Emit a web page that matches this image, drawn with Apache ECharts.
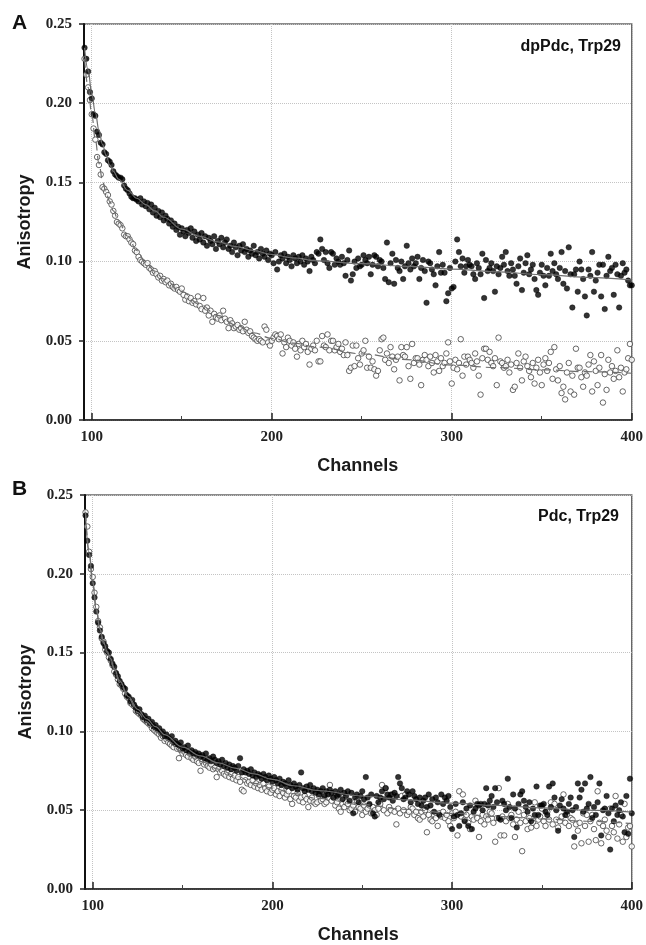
<!DOCTYPE html>
<html><head><meta charset="utf-8">
<script src="https://cdn.jsdelivr.net/npm/echarts@6/dist/echarts.min.js"></script>
<style>html,body{margin:0;padding:0;background:#fff}#c{width:646px;height:945px}</style>
</head><body><div id="c"></div>
<script>
// Detector channels (x values)
const channels = [
96,97,98,99,100,101,102,103,104,105,
106,107,108,109,110,111,112,113,114,115,
116,117,118,119,120,121,122,123,124,125,
126,127,128,129,130,131,132,133,134,135,
136,137,138,139,140,141,142,143,144,145,
146,147,148,149,150,151,152,153,154,155,
156,157,158,159,160,161,162,163,164,165,
166,167,168,169,170,171,172,173,174,175,
176,177,178,179,180,181,182,183,184,185,
186,187,188,189,190,191,192,193,194,195,
196,197,198,199,200,201,202,203,204,205,
206,207,208,209,210,211,212,213,214,215,
216,217,218,219,220,221,222,223,224,225,
226,227,228,229,230,231,232,233,234,235,
236,237,238,239,240,241,242,243,244,245,
246,247,248,249,250,251,252,253,254,255,
256,257,258,259,260,261,262,263,264,265,
266,267,268,269,270,271,272,273,274,275,
276,277,278,279,280,281,282,283,284,285,
286,287,288,289,290,291,292,293,294,295,
296,297,298,299,300,301,302,303,304,305,
306,307,308,309,310,311,312,313,314,315,
316,317,318,319,320,321,322,323,324,325,
326,327,328,329,330,331,332,333,334,335,
336,337,338,339,340,341,342,343,344,345,
346,347,348,349,350,351,352,353,354,355,
356,357,358,359,360,361,362,363,364,365,
366,367,368,369,370,371,372,373,374,375,
376,377,378,379,380,381,382,383,384,385,
386,387,388,389,390,391,392,393,394,395,
396,397,398,399,400];

const xTickLabels = [100, 200, 300, 400];
const xMinorTicks = [150, 250, 350];

// Panel A: dpPdc, Trp29 — filled symbols
const aFilled = [
.235,.228,.220,.207,.203,.193,.192,.182,.180,.175,
.174,.169,.168,.164,.163,.161,.157,.155,.154,.153,
.153,.152,.148,.146,.145,.143,.141,.140,.140,.139,
.138,.140,.136,.138,.135,.137,.133,.136,.131,.134,
.129,.132,.128,.131,.126,.129,.127,.124,.126,.122,
.124,.120,.122,.117,.121,.119,.116,.120,.118,.121,
.115,.119,.113,.117,.114,.118,.112,.116,.110,.115,
.113,.111,.116,.108,.113,.111,.115,.109,.112,.114,
.108,.110,.106,.112,.109,.104,.110,.107,.111,.106,
.108,.103,.107,.105,.110,.104,.106,.102,.108,.105,
.103,.107,.101,.105,.104,.099,.106,.095,.100,.104,
.102,.105,.099,.103,.101,.097,.104,.102,.099,.103,
.100,.104,.098,.102,.100,.094,.103,.101,.099,.106,
.105,.114,.108,.101,.106,.099,.096,.106,.105,.098,
.102,.100,.098,.103,.099,.091,.101,.107,.088,.092,
.100,.096,.102,.097,.098,.104,.101,.099,.103,.092,
.098,.104,.103,.097,.101,.100,.096,.089,.112,.087,
.099,.105,.086,.101,.096,.094,.100,.089,.097,.110,
.099,.095,.102,.097,.099,.103,.089,.096,.101,.094,
.074,.100,.099,.095,.092,.085,.097,.106,.093,.098,
.093,.075,.080,.096,.083,.084,.100,.114,.106,.097,
.102,.093,.097,.101,.098,.097,.092,.089,.099,.096,
.092,.105,.077,.101,.094,.096,.099,.094,.081,.097,
.092,.096,.103,.098,.106,.094,.091,.099,.095,.091,
.086,.097,.102,.082,.093,.099,.104,.092,.095,.098,
.089,.082,.079,.093,.098,.091,.085,.096,.091,.105,
.094,.099,.092,.089,.096,.106,.086,.094,.083,.109,
.092,.071,.092,.095,.081,.100,.095,.089,.078,.066,
.095,.091,.106,.081,.088,.093,.098,.078,.098,.070,
.091,.103,.094,.096,.079,.098,.092,.071,.091,.099,
.093,.095,.088,.085,.085];

// Panel A: open symbols
const aOpen = [
.228,.218,.210,.202,.193,.184,.177,.166,.161,.155,
.147,.146,.144,.142,.138,.136,.132,.129,.125,.124,
.123,.121,.117,.116,.116,.114,.112,.111,.107,.106,
.103,.101,.100,.099,.098,.099,.096,.095,.093,.094,
.092,.090,.091,.088,.089,.087,.088,.085,.086,.084,
.083,.084,.082,.081,.083,.079,.076,.078,.075,.077,
.074,.075,.073,.078,.072,.070,.077,.069,.071,.066,
.069,.062,.067,.065,.064,.066,.063,.069,.064,.062,
.058,.063,.061,.058,.059,.060,.057,.058,.056,.062,
.057,.055,.056,.053,.052,.051,.050,.051,.050,.049,
.059,.057,.049,.047,.050,.052,.054,.053,.051,.054,
.042,.049,.046,.052,.050,.047,.049,.045,.040,.048,
.044,.050,.046,.048,.043,.035,.045,.047,.044,.050,
.037,.037,.053,.047,.046,.054,.044,.050,.050,.044,
.046,.048,.043,.045,.041,.049,.041,.031,.033,.047,
.034,.047,.039,.035,.042,.044,.050,.033,.040,.033,
.037,.032,.028,.031,.044,.051,.052,.038,.042,.036,
.046,.040,.032,.038,.040,.025,.046,.041,.040,.046,
.034,.026,.048,.036,.039,.039,.035,.022,.038,.041,
.038,.034,.040,.036,.030,.041,.037,.031,.039,.034,
.036,.042,.049,.037,.023,.033,.038,.032,.036,.051,
.028,.040,.035,.040,.038,.036,.033,.042,.037,.028,
.016,.039,.045,.045,.038,.043,.036,.034,.039,.022,
.052,.037,.036,.033,.034,.038,.030,.035,.019,.021,
.036,.042,.033,.025,.037,.040,.034,.031,.027,.036,
.023,.033,.038,.030,.022,.035,.039,.031,.036,.043,
.026,.046,.032,.025,.034,.017,.021,.013,.030,.036,
.018,.028,.016,.045,.033,.033,.027,.021,.030,.028,
.035,.041,.018,.037,.031,.022,.033,.041,.011,.029,
.019,.038,.030,.034,.026,.031,.044,.027,.033,.018,
.030,.032,.039,.048,.038];

// Panel B: Pdc, Trp29 — filled symbols
const bFilled = [
.237,.221,.212,.205,.194,.185,.176,.169,.164,.160,
.156,.154,.151,.150,.146,.143,.141,.137,.135,.132,
.130,.128,.127,.123,.122,.119,.120,.117,.115,.113,
.114,.111,.109,.110,.107,.108,.105,.106,.103,.104,
.101,.102,.099,.100,.097,.098,.096,.095,.097,.093,
.094,.092,.091,.093,.089,.090,.088,.091,.087,.088,
.086,.087,.085,.086,.084,.085,.083,.086,.082,.083,
.081,.084,.082,.080,.081,.079,.082,.078,.080,.077,
.079,.076,.078,.077,.075,.078,.083,.074,.076,.074,
.075,.073,.076,.072,.074,.071,.073,.072,.070,.073,
.071,.069,.072,.070,.068,.071,.069,.067,.070,.066,
.068,.067,.065,.069,.066,.064,.067,.065,.063,.066,
.074,.064,.062,.065,.063,.066,.062,.064,.061,.063,
.060,.062,.064,.059,.062,.060,.063,.061,.058,.062,
.059,.060,.063,.057,.061,.059,.062,.056,.061,.048,
.058,.060,.055,.059,.062,.057,.071,.058,.054,.060,
.048,.046,.059,.055,.058,.062,.057,.064,.060,.058,
.060,.056,.061,.059,.071,.067,.064,.057,.058,.062,
.060,.055,.062,.059,.057,.054,.058,.053,.056,.058,
.052,.060,.053,.057,.049,.058,.055,.047,.060,.054,
.058,.056,.059,.052,.038,.046,.054,.047,.040,.048,
.055,.043,.051,.040,.053,.038,.049,.051,.054,.053,
.054,.050,.054,.064,.053,.056,.059,.052,.064,.055,
.045,.044,.056,.054,.050,.070,.052,.045,.060,.051,
.039,.054,.060,.062,.056,.052,.049,.055,.043,.051,
.047,.065,.047,.053,.053,.054,.049,.047,.065,.052,
.067,.058,.050,.037,.053,.057,.051,.047,.049,.054,
.058,.050,.033,.052,.067,.058,.063,.049,.067,.051,
.054,.071,.045,.052,.047,.055,.067,.034,.050,.051,
.059,.048,.025,.051,.043,.053,.047,.050,.055,.046,
.036,.059,.035,.070,.048];

// Panel B: open symbols
const bOpen = [
.239,.230,.214,.203,.198,.188,.179,.170,.166,.159,
.157,.152,.150,.147,.145,.142,.138,.136,.133,.130,
.129,.127,.124,.122,.121,.118,.117,.116,.113,.112,
.111,.110,.108,.107,.106,.105,.104,.102,.101,.100,
.099,.098,.096,.097,.094,.095,.093,.092,.091,.090,
.092,.089,.083,.088,.086,.087,.085,.084,.086,.083,
.082,.084,.081,.080,.075,.081,.079,.080,.078,.077,
.079,.076,.077,.071,.076,.074,.075,.073,.072,.074,
.071,.073,.070,.072,.069,.071,.068,.063,.062,.069,
.067,.068,.066,.069,.065,.067,.064,.066,.063,.067,
.064,.062,.065,.061,.063,.064,.060,.062,.059,.063,
.061,.058,.060,.062,.057,.054,.059,.058,.061,.056,
.058,.055,.059,.057,.052,.056,.058,.055,.054,.055,
.059,.056,.057,.054,.055,.058,.066,.056,.058,.053,
.055,.051,.049,.054,.052,.055,.054,.050,.051,.053,
.049,.056,.052,.051,.047,.053,.049,.051,.053,.048,
.052,.050,.047,.051,.054,.066,.050,.064,.048,.052,
.050,.060,.049,.041,.051,.048,.059,.050,.060,.047,
.049,.052,.051,.047,.049,.045,.044,.049,.046,.050,
.036,.047,.044,.043,.047,.045,.040,.048,.046,.049,
.045,.047,.043,.040,.048,.045,.049,.034,.062,.046,
.060,.044,.047,.042,.038,.046,.044,.056,.045,.033,
.043,.047,.041,.046,.044,.049,.048,.042,.030,.045,
.064,.034,.046,.034,.043,.054,.045,.047,.041,.033,
.044,.049,.042,.024,.047,.043,.038,.045,.039,.042,
.055,.040,.044,.046,.051,.043,.040,.049,.044,.055,
.041,.054,.044,.039,.043,.046,.060,.042,.047,.040,
.045,.044,.027,.041,.037,.042,.029,.048,.040,.047,
.030,.043,.047,.038,.031,.062,.042,.029,.040,.044,
.037,.033,.051,.040,.036,.059,.032,.041,.047,.030,
.054,.033,.039,.040,.027];

// Fitted curves (at these channels)
const fitChannels = [96,98,100,102,104,106,108,110,112,115,120,125,130,135,140,150,160,170,180,190,200,212,225,250,275,300,325,350,375,400];
const aFitFilled = [.235,.221,.206,.194,.183,.174,.167,.161,.157,.152,.145,.140,.136,.132,.128,.1205,.116,.1125,.1095,.107,.1045,.1023,.1004,.0987,.097,.0953,.0935,.0918,.0901,.0884];
const aFitOpen = [.228,.210,.193,.177,.162,.151,.143,.138,.132,.125,.116,.107,.099,.094,.089,.081,.073,.066,.060,.055,.0515,.0485,.0461,.0418,.0381,.0347,.0331,.0317,.0305,.0295];
const bFitFilled = [.237,.213,.194,.177,.165,.157,.151,.146,.140,.132,.122,.114,.108,.103,.098,.090,.0845,.080,.0765,.073,.0695,.0655,.0625,.0590,.0565,.0545,.053,.0515,.050,.0488];
const bFitOpen = [.239,.214,.195,.178,.165,.156,.150,.145,.139,.131,.121,.112,.106,.100,.095,.087,.081,.076,.0715,.067,.064,.0605,.0575,.0535,.0505,.048,.046,.0445,.043,.0415];

const serif = "'Liberation Serif','Times New Roman',serif";
const sans = "'Liberation Sans',Arial,sans-serif";
const XMIN = 95.7, XMAX = 400;

function xAxesFor(gridIndex) {
  return [{
    type: 'value', gridIndex, min: XMIN, max: XMAX, position: 'bottom',
    name: 'Channels', nameLocation: 'middle', nameGap: 37,
    nameTextStyle: {fontFamily: sans, fontWeight: 'bold', fontSize: 18, color: '#1a1a1a'},
    axisLine: {show: true, onZero: false, lineStyle: {color: '#222', width: 1.5}},
    axisTick: {show: true, inside: true, length: 7, customValues: xTickLabels, lineStyle: {color: '#222', width: 1.5}},
    axisLabel: {customValues: xTickLabels, margin: 10, fontFamily: serif, fontWeight: 'bold', fontSize: 15, color: '#222'},
    splitLine: {show: true, lineStyle: {color: '#c4c4c4', type: 'dotted', width: 1}}
  }, {
    type: 'value', gridIndex, min: XMIN, max: XMAX, position: 'bottom',
    axisLine: {show: false}, axisLabel: {show: false}, splitLine: {show: false},
    axisTick: {show: true, inside: true, length: 4, customValues: xMinorTicks, lineStyle: {color: '#444', width: 1}}
  }];
}
function yAxisFor(gridIndex) {
  return {
    type: 'value', gridIndex, min: 0, max: 0.25, interval: 0.05,
    name: 'Anisotropy', nameLocation: 'middle', nameGap: 50,
    nameTextStyle: {fontFamily: sans, fontWeight: 'bold', fontSize: 18, color: '#1a1a1a'},
    axisLine: {show: true, onZero: false, lineStyle: {color: '#111', width: 2}},
    axisTick: {show: true, inside: false, length: 5, lineStyle: {color: '#222', width: 1.5}},
    axisLabel: {formatter: v => v.toFixed(2), margin: 12, fontFamily: serif, fontWeight: 'bold', fontSize: 15, color: '#222'},
    splitLine: {show: true, lineStyle: {color: '#c4c4c4', type: 'dotted', width: 1}}
  };
}
function scatter(vals, xi, yi, filled) {
  return {
    type: 'scatter', xAxisIndex: xi, yAxisIndex: yi, silent: true,
    data: channels.map((c, i) => [c, vals[i]]),
    symbol: 'circle', symbolSize: 5.5,
    itemStyle: filled ? {color: '#000', borderColor: '#000', borderWidth: 0.5}
                      : {color: '#fff', borderColor: '#444', borderWidth: 1},
    z: 2
  };
}
function fit(vals, xi, yi, dashed) {
  return {
    type: 'line', xAxisIndex: xi, yAxisIndex: yi, silent: true,
    data: fitChannels.map((c, i) => [c, vals[i]]),
    showSymbol: false, smooth: 0.4, smoothMonotone: 'x',
    lineStyle: {color: '#6e6e6e', width: 1.2, type: dashed ? [9, 5] : 'solid'},
    z: 3
  };
}

const chart = echarts.init(document.getElementById('c'), null, {renderer: 'canvas'});
chart.setOption({
  animation: false,
  backgroundColor: '#fff',
  title: [
    {text: 'A', left: 12, top: 13, padding: 0, textStyle: {fontFamily: sans, fontWeight: 'bold', fontSize: 21, color: '#111'}},
    {text: 'B', left: 12, top: 479, padding: 0, textStyle: {fontFamily: sans, fontWeight: 'bold', fontSize: 21, color: '#111'}},
    {text: 'dpPdc, Trp29', right: 25, top: 39, padding: 0, textStyle: {fontFamily: sans, fontWeight: 'bold', fontSize: 16, color: '#111'}},
    {text: 'Pdc, Trp29', right: 27, top: 509, padding: 0, textStyle: {fontFamily: sans, fontWeight: 'bold', fontSize: 16, color: '#111'}}
  ],
  grid: [
    {left: 84, right: 13, top: 24, height: 396, show: true, borderColor: '#666', borderWidth: 1.5, containLabel: false},
    {left: 85, right: 12, top: 495, height: 396, show: true, borderColor: '#666', borderWidth: 1.5, containLabel: false}
  ],
  xAxis: [...xAxesFor(0), ...xAxesFor(1)],
  yAxis: [yAxisFor(0), yAxisFor(1)],
  series: [
    scatter(aOpen, 0, 0, false),
    scatter(aFilled, 0, 0, true),
    fit(aFitFilled, 0, 0, false),
    fit(aFitOpen, 0, 0, true),
    scatter(bOpen, 2, 1, false),
    scatter(bFilled, 2, 1, true),
    fit(bFitFilled, 2, 1, false),
    fit(bFitOpen, 2, 1, true)
  ]
});
</script></body></html>
